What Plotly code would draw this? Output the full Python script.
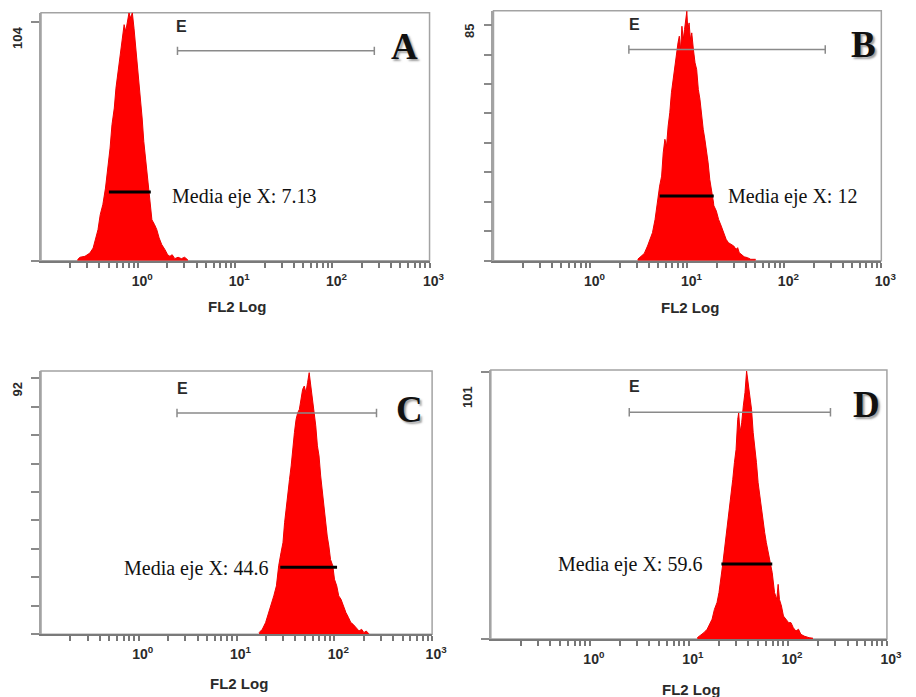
import plotly.graph_objects as go

W, H = 916, 697

# ---------------- data ----------------
# Panel A histogram
a_fl2 = [0.237, 0.252, 0.283, 0.318, 0.344, 0.366, 0.386, 0.407, 0.433, 0.461, 0.487, 0.514,
         0.538, 0.568, 0.591, 0.624, 0.653, 0.690, 0.717, 0.745, 0.775, 0.805, 0.837, 0.871,
         0.906, 0.940, 0.978, 1.016, 1.057, 1.099, 1.143, 1.186, 1.233, 1.282, 1.333, 1.386,
         1.475, 1.556, 1.644, 1.750, 1.889, 2.011, 2.123, 2.241, 2.384, 2.576, 2.784, 3.008, 3.251]
a_count = [0.4, 1.5, 1.9, 3.3, 5.5, 9.9, 13.5, 20.0, 24.4, 31.6, 40.3, 49.0,
           59.2, 66.4, 75.1, 82.4, 89.6, 96.9, 102.7, 99.8, 104.1, 107.8, 105.6, 107.9,
           101.2, 94.0, 86.0, 79.5, 72.2, 62.1, 51.9, 44.7, 37.4, 31.6, 22.9, 17.8,
           15.7, 13.5, 9.9, 7.0, 4.8, 2.6, 1.9, 2.6, 0.9, 1.5, 0.9, 1.5, 0.3]

# Panel B histogram
b_fl2 = [3.07, 3.32, 3.59, 3.88, 4.10, 4.36, 4.64, 4.89, 5.17, 5.42, 5.63, 5.86, 6.09, 6.33,
         6.58, 6.84, 7.11, 7.40, 7.69, 8.00, 8.25, 8.51, 8.78, 9.06, 9.34, 9.64, 9.86, 10.09,
         10.41, 10.74, 11.09, 11.53, 11.99, 12.46, 12.96, 13.47, 14.00, 14.56, 15.14, 15.74,
         16.36, 17.01, 17.98, 18.84, 19.88, 20.97, 22.33, 23.77, 25.10, 26.51, 28.23, 30.06,
         31.73, 32.97, 34.26, 36.19, 38.53, 41.67, 45.00, 50.55]
b_count = [0.5, 1.4, 2.6, 5.3, 7.7, 10.1, 14.9, 20.9, 26.9, 30.5, 38.9, 43.8, 41.3, 48.6,
           53.4, 60.6, 65.4, 70.2, 73.8, 78.6, 81.0, 76.2, 84.6, 79.8, 83.4, 87.0, 90.0, 83.4,
           85.8, 79.8, 82.2, 76.2, 71.4, 69.0, 61.8, 58.2, 52.2, 47.4, 43.8, 40.1,
           35.3, 29.3, 24.5, 19.7, 17.9, 14.9, 12.5, 10.1, 7.7, 6.5, 5.9, 5.3,
           4.1, 4.7, 2.9, 2.3, 1.4, 1.1, 0.5, 0.5]

# Panel C histogram
c_fl2 = [16.98, 18.34, 19.81, 21.40, 22.57, 24.03, 25.56, 26.96, 28.47, 29.82, 30.99, 32.21,
         33.48, 34.80, 36.17, 37.59, 39.07, 40.61, 42.21, 43.87, 45.60, 47.40, 49.26, 51.20,
         53.22, 55.31, 57.49, 59.76, 62.11, 64.56, 67.10, 69.74, 72.49, 75.34, 78.31, 81.39,
         84.59, 87.93, 91.39, 96.45, 100.3, 105.8, 110.9, 117.0, 123.5, 131.4, 139.7, 147.5,
         155.6, 165.4, 178.9, 190.2, 200.8, 211.9, 225.4]
c_count = [0.6, 1.8, 4.2, 7.8, 10.8, 13.8, 17.4, 24.6, 29.3, 32.9, 40.1, 46.1,
           50.9, 55.7, 60.5, 67.7, 72.5, 77.2, 79.6, 80.8, 85.0, 88.0, 89.2, 86.8,
           90.4, 94.0, 89.2, 84.4, 80.8, 74.9, 67.7, 64.1, 56.9, 50.9, 46.1, 40.1,
           35.3, 31.7, 26.9, 24.6, 19.8, 17.4, 13.8, 12.6, 10.2, 7.8, 6.0, 4.2,
           3.6, 2.4, 1.2, 1.8, 0.6, 1.2, 0.2]

# Panel D histogram
d_fl2 = [12.16, 13.13, 14.17, 15.30, 16.26, 17.15, 18.10, 19.24, 20.14, 21.08, 22.07, 23.10,
         24.19, 25.32, 26.51, 27.75, 28.83, 29.96, 31.13, 31.85, 32.85, 34.13, 35.46, 36.84,
         38.28, 39.77, 41.32, 42.93, 44.60, 46.34, 48.14, 50.02, 51.97, 54.00, 56.10, 58.28,
         60.55, 62.91, 66.36, 69.45, 73.26, 77.28, 79.66, 82.12, 86.04, 90.15, 95.73, 101.7,
         107.4, 113.3, 120.4, 127.9, 135.0, 145.8, 163.5, 179.1]
d_count = [0.5, 1.4, 2.4, 3.7, 5.6, 7.5, 11.2, 13.8, 17.6, 22.6, 28.9, 35.2,
           41.5, 47.9, 52.9, 60.5, 66.8, 71.8, 83.2, 85.7, 78.2, 81.9, 88.3, 93.3,
           101.5, 97.1, 92.0, 87.0, 78.2, 73.1, 66.8, 59.2, 54.2, 50.4, 45.3, 40.3,
           36.5, 32.7, 28.9, 25.1, 17.6, 15.0, 20.7, 15.0, 12.5, 8.7, 7.5, 6.2,
           6.2, 4.3, 3.0, 3.7, 1.8, 1.1, 0.5, 0.3]

# mean bars [x0, x1], height
mean_x = {"A": [0.50, 1.35], "B": [5.18, 18.7], "C": [28.0, 106.6], "D": [21.3, 69.5]}
mean_y = {"A": 29.9, "B": 23.3, "C": 24.1, "D": 28.4}
mean_text = {"A": "Media eje X: 7.13", "B": "Media eje X: 12",
             "C": "Media eje X: 44.6", "D": "Media eje X: 59.6"}

# gate E [x0, x1], height
gate_x = {"A": [2.54, 270], "B": [2.49, 264], "C": [2.46, 270], "D": [2.50, 269]}
gate_y = {"A": 91.3, "B": 76.2, "C": 79.5, "D": 85.9}

# y-axis max labels
y_label = {"A": 104, "B": 85, "C": 92, "D": 101}

x_tick_vals = [1, 10, 100, 1000]
x_tick_text = ["10<sup>0</sup>", "10<sup>1</sup>", "10<sup>2</sup>", "10<sup>3</sup>"]

hist = {"A": (a_fl2, a_count), "B": (b_fl2, b_count), "C": (c_fl2, c_count), "D": (d_fl2, d_count)}

# ---------------- layout (pixel geometry) ----------------
dom = {  # x0, x1, ytop, ybottom in pixels
    "A": (41.7, 436.7, 12.7, 260.7),
    "B": (501.7, 896.0, 10.7, 260.7),
    "C": (41.7, 439.3, 371.0, 634.3),
    "D": (499.0, 901.7, 370.0, 639.0),
}
ytop = {"A": 107.9, "B": 90.2, "C": 94.6, "D": 101.9}
ytickspec = {"A": dict(tickvals=[0, 104]), "B": dict(tick0=0, dtick=85 / 8),
             "C": dict(tick0=0, dtick=92 / 9), "D": dict(tickvals=[0, 101])}
letter_pos = {"A": (411.0, 46.3), "B": (877.8, 44.7), "C": (416.3, 409.0), "D": (880.5, 404.0)}
e_pos = {"A": (185, 26.5), "B": (645, 24.5), "C": (186, 388), "D": (645.3, 386.3)}
fl2_pos = {"A": (241.2, 306.7), "B": (701.2, 307.8), "C": (243, 683.8), "D": (702.7, 689.2)}
ylab_pos = {"A": (17.5, 37.7), "B": (477.5, 31.3), "C": (17.5, 389.3), "D": (475.3, 397.5)}
mtext_pos = {"A": (172.7, 196.0), "B": (738.3, 196.0), "C": (124.0, 568.0), "D": (565.0, 564.0)}


def px(x):
    return x / W


def py(y):
    return 1 - y / H


minor_vals = [m * 10 ** e for e in (-1, 0, 1, 2) for m in range(2, 10)]

fig = go.Figure()
annotations = []
shapes = []
GRAY = "#a3a3a3"
TXT = "#2a2a2a"
SANS = "Arial, Liberation Sans, sans-serif"
SERIF = "Liberation Serif, serif"

for i, k in enumerate(["A", "B", "C", "D"], start=1):
    xa = "x" if i == 1 else f"x{i}"
    ya = "y" if i == 1 else f"y{i}"
    fl2, cnt = hist[k]
    fig.add_trace(go.Scatter(x=fl2, y=cnt, mode="lines", fill="tozeroy",
                             fillcolor="#ff0000", line=dict(color="#ee0000", width=1),
                             xaxis=xa, yaxis=ya, showlegend=False, hoverinfo="skip"))
    fig.add_trace(go.Scatter(x=gate_x[k], y=[gate_y[k]] * 2, mode="lines+markers",
                             line=dict(color="#8a8a8a", width=1.5),
                             marker=dict(symbol="line-ns-open", size=6,
                                         line=dict(color="#8a8a8a", width=1.5)),
                             xaxis=xa, yaxis=ya, showlegend=False, hoverinfo="skip"))
    fig.add_trace(go.Scatter(x=mean_x[k], y=[mean_y[k]] * 2, mode="lines",
                             line=dict(color="#000000", width=3),
                             xaxis=xa, yaxis=ya, showlegend=False, hoverinfo="skip"))

    x0, x1, yt, yb = dom[k]
    xkey = "xaxis" if i == 1 else f"xaxis{i}"
    ykey = "yaxis" if i == 1 else f"yaxis{i}"
    fig.layout[xkey] = dict(
        domain=[px(x0), px(x1)], anchor=ya, type="log", range=[-1, 3],
        tickvals=x_tick_vals, ticktext=[f"<b>{t}</b>" for t in x_tick_text],
        ticks="outside", ticklen=5, tickwidth=1.5, tickcolor="#777",
        tickfont=dict(family=SANS, size=14, color=TXT),
        ticklabelshift=4, ticklabelstandoff=1,
        minor=dict(tickvals=minor_vals, ticks="outside", ticklen=5, tickwidth=1.5, tickcolor="#777"),
        showline=True, linecolor="#7a7a7a", linewidth=2,
        showgrid=False, zeroline=False, fixedrange=True)
    fig.layout[ykey] = dict(
        domain=[py(yb), py(yt)], anchor=xa, range=[0, ytop[k]],
        ticks="outside", ticklen=8, tickwidth=1.5, tickcolor="#8a8a8a",
        showticklabels=False, showline=True, linecolor=GRAY, linewidth=1.5,
        showgrid=False, zeroline=False, fixedrange=True, **ytickspec[k])

    shapes.append(dict(type="rect", xref=f"{xa} domain", yref=f"{ya} domain",
                       x0=0, x1=1, y0=0, y1=1, line=dict(color=GRAY, width=1.5), layer="below"))

    common = dict(xref="paper", yref="paper", showarrow=False, xanchor="center", yanchor="middle")
    lx, ly = letter_pos[k]
    annotations.append(dict(x=px(lx), y=py(ly), text=f"<b>{k}</b>",
                            font=dict(family=SERIF, size=37, color="#111111",
                                      shadow="2px 2px 2px rgba(80,80,80,0.55)"), **common))
    ex, ey = e_pos[k]
    annotations.append(dict(x=px(ex), y=py(ey), text="<b>E</b>",
                            font=dict(family=SANS, size=16, color=TXT), **common))
    fx, fy = fl2_pos[k]
    annotations.append(dict(x=px(fx), y=py(fy), text="<b>FL2 Log</b>",
                            font=dict(family=SANS, size=15, color=TXT), **common))
    lx2, ly2 = ylab_pos[k]
    annotations.append(dict(x=px(lx2), y=py(ly2), text=f"<b>{y_label[k]}</b>", textangle=-90,
                            font=dict(family=SANS, size=13, color=TXT), **common))
    mx, my = mtext_pos[k]
    annotations.append(dict(x=px(mx), y=py(my), xref="paper", yref="paper", showarrow=False,
                            xanchor="left", yanchor="middle", text=mean_text[k],
                            font=dict(family=SERIF, size=20, color="#111111")))

# white box behind the B label that clips the histogram edge
shapes.append(dict(type="rect", xref="paper", yref="paper", x0=px(726.5), x1=px(738),
                   y0=py(206), y1=py(190), fillcolor="white", line=dict(width=0), layer="above"))

fig.update_layout(width=W, height=H, margin=dict(l=0, r=0, t=0, b=0),
                  paper_bgcolor="white", plot_bgcolor="white",
                  annotations=annotations, shapes=shapes, showlegend=False)

fig.write_html("out.html", config={"displayModeBar": False},
               post_script="document.body.style.margin='0px';")
